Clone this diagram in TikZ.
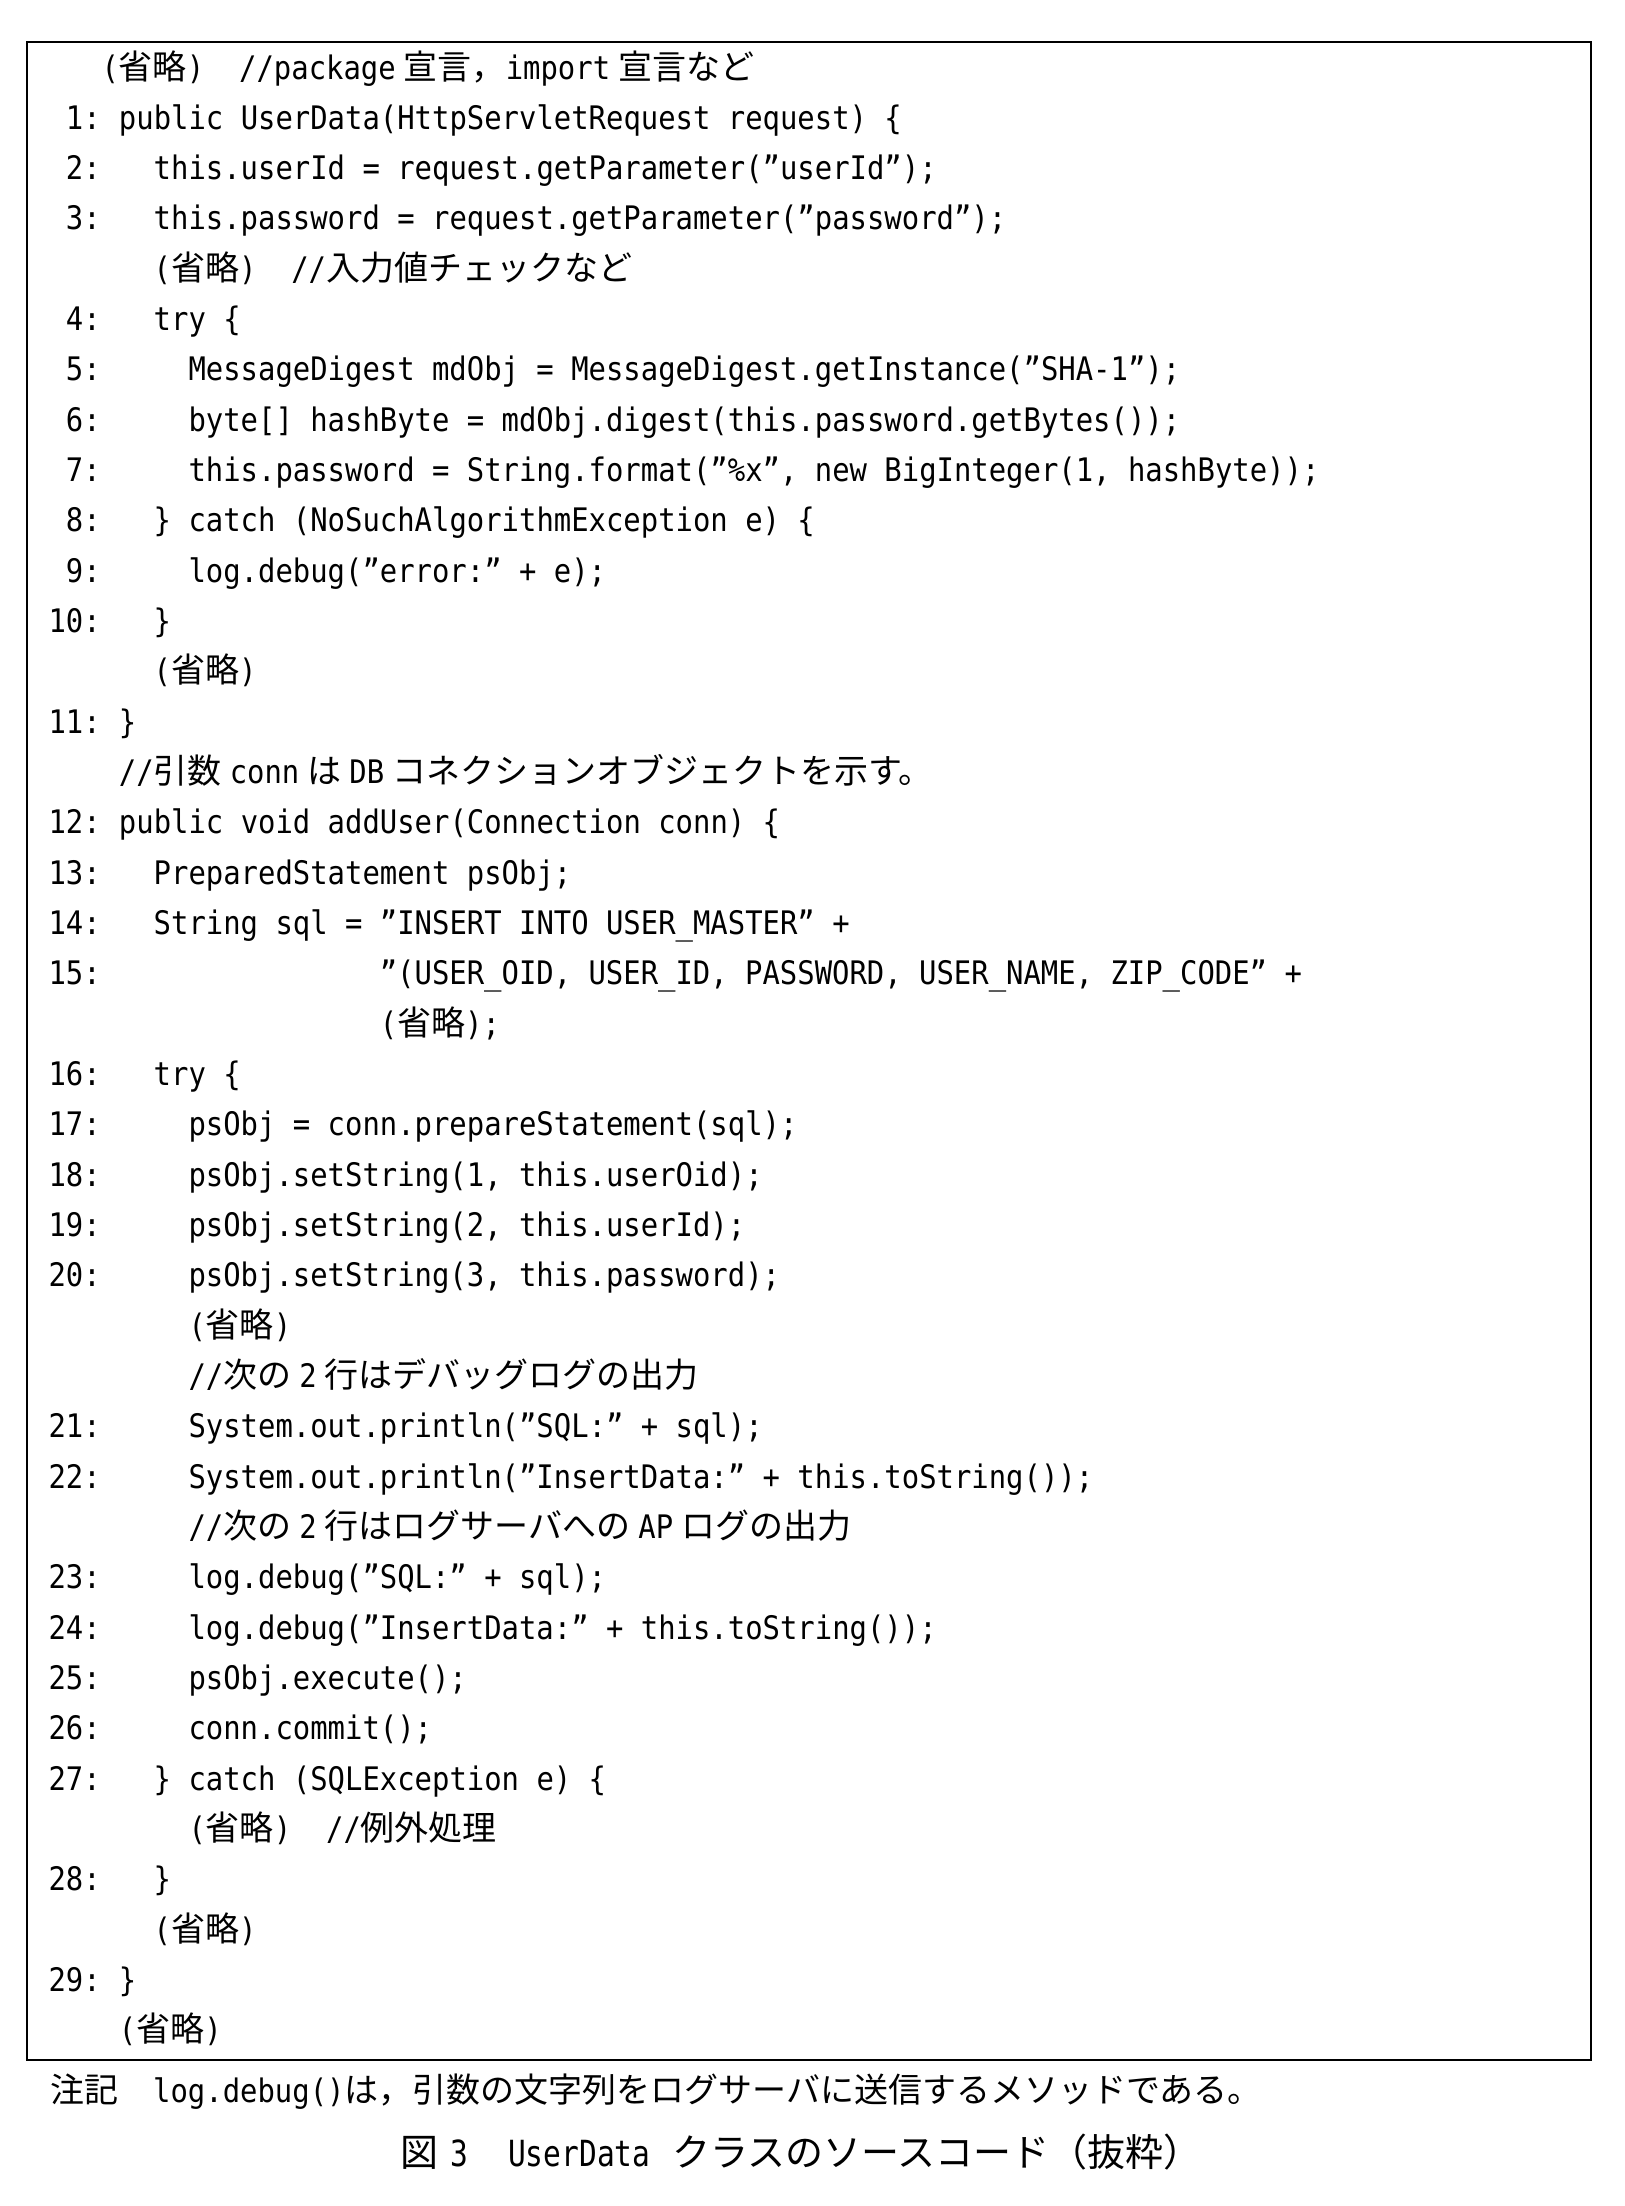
\documentclass[tikz,border=0pt]{standalone}
\usepackage{fontspec}
\setmonofont[FakeStretch=0.892]{DejaVu Sans Mono}
\newfontfamily\jpfont{Noto Sans CJK JP}
\newcommand\codefont{\ttfamily\fontsize{16.2pt}{16.2pt}\selectfont\frenchspacing}
\newcommand\capfont{\ttfamily\addfontfeature{FakeStretch=0.82}\fontsize{18pt}{18pt}\selectfont}
\newcommand\jp[1]{{\fontsize{17pt}{17pt}\jpfont #1}}
\newcommand\jpc[1]{{\fontsize{19pt}{19pt}\jpfont #1}}
\newcommand\wsp{\hspace{4pt}}
\begin{document}
\begin{tikzpicture}[x=0.5pt, y=-0.5pt,
    code/.style={anchor=base west, inner sep=0pt, font=\codefont},
    lnum/.style={anchor=base east, inner sep=0pt, font=\codefont}]
  \useasboundingbox (0,0) rectangle (1624,2206);
  % frame
  \draw[line width=1.3pt] (27,42) rectangle (1591,2060);
  % code lines, x = column, y = line
  \begin{scope}[shift={(49,79)}, x=8.695pt, y=-25.165pt]
    \foreach \n/\k in {1/1,2/2,3/3,4/5,5/6,6/7,7/8,8/9,9/10,10/11,11/13,
        12/15,13/16,14/17,15/18,16/20,17/21,18/22,19/23,20/24,21/27,22/28,
        23/30,24/31,25/32,26/33,27/34,28/36,29/38}
      \node[lnum] (n\n) at (3,\k) {\n:};
    \node[code] (c0) at (3,0) {(\jp{省略})~~//package\wsp\jp{宣言，}import\wsp\jp{宣言など}};
    \node[code] (c1) at (4,1) {public UserData(HttpServletRequest request) \{};
    \node[code] (c2) at (6,2) {this.userId = request.getParameter(”userId”);};
    \node[code] (c3) at (6,3) {this.password = request.getParameter(”password”);};
    \node[code] (c4) at (6,4) {(\jp{省略})~~//\jp{入力値チェックなど}};
    \node[code] (c5) at (6,5) {try \{};
    \node[code] (c6) at (8,6) {MessageDigest mdObj = MessageDigest.getInstance(”SHA-1”);};
    \node[code] (c7) at (8,7) {byte[] hashByte = mdObj.digest(this.password.getBytes());};
    \node[code] (c8) at (8,8) {this.password = String.format(”\%x”, new BigInteger(1, hashByte));};
    \node[code] (c9) at (6,9) {\} catch (NoSuchAlgorithmException e) \{};
    \node[code] (c10) at (8,10) {log.debug(”error:” + e);};
    \node[code] (c11) at (6,11) {\}};
    \node[code] (c12) at (6,12) {(\jp{省略})};
    \node[code] (c13) at (4,13) {\}};
    \node[code] (c14) at (4,14) {//\jp{引数}\wsp conn\wsp\jp{は}\wsp DB\wsp\jp{コネクションオブジェクトを示す。}};
    \node[code] (c15) at (4,15) {public void addUser(Connection conn) \{};
    \node[code] (c16) at (6,16) {PreparedStatement psObj;};
    \node[code] (c17) at (6,17) {String sql = ”INSERT INTO USER\_MASTER” +};
    \node[code] (c18) at (19,18) {”(USER\_OID, USER\_ID, PASSWORD, USER\_NAME, ZIP\_CODE” +};
    \node[code] (c19) at (19,19) {(\jp{省略});};
    \node[code] (c20) at (6,20) {try \{};
    \node[code] (c21) at (8,21) {psObj = conn.prepareStatement(sql);};
    \node[code] (c22) at (8,22) {psObj.setString(1, this.userOid);};
    \node[code] (c23) at (8,23) {psObj.setString(2, this.userId);};
    \node[code] (c24) at (8,24) {psObj.setString(3, this.password);};
    \node[code] (c25) at (8,25) {(\jp{省略})};
    \node[code] (c26) at (8,26) {//\jp{次の}\wsp 2\wsp\jp{行はデバッグログの出力}};
    \node[code] (c27) at (8,27) {System.out.println(”SQL:” + sql);};
    \node[code] (c28) at (8,28) {System.out.println(”InsertData:” + this.toString());};
    \node[code] (c29) at (8,29) {//\jp{次の}\wsp 2\wsp\jp{行はログサーバへの}\wsp AP\wsp\jp{ログの出力}};
    \node[code] (c30) at (8,30) {log.debug(”SQL:” + sql);};
    \node[code] (c31) at (8,31) {log.debug(”InsertData:” + this.toString());};
    \node[code] (c32) at (8,32) {psObj.execute();};
    \node[code] (c33) at (8,33) {conn.commit();};
    \node[code] (c34) at (6,34) {\} catch (SQLException e) \{};
    \node[code] (c35) at (8,35) {(\jp{省略})~~//\jp{例外処理}};
    \node[code] (c36) at (6,36) {\}};
    \node[code] (c37) at (6,37) {(\jp{省略})};
    \node[code] (c38) at (4,38) {\}};
    \node[code] (c39) at (4,39) {(\jp{省略})};
  \end{scope}
  % note and caption below the frame
  \node[code] (note) at (50,2102) {\jp{注記}~~log.debug()\jp{は，引数の文字列をログサーバに送信するメソッドである。}};
  \node[code, font=\capfont] (caption) at (400,2166) {\jpc{図}\hspace{6pt}3\hspace{20pt}UserData\hspace{11pt}\jpc{クラスのソースコード（抜粋）}};
\end{tikzpicture}
\end{document}
